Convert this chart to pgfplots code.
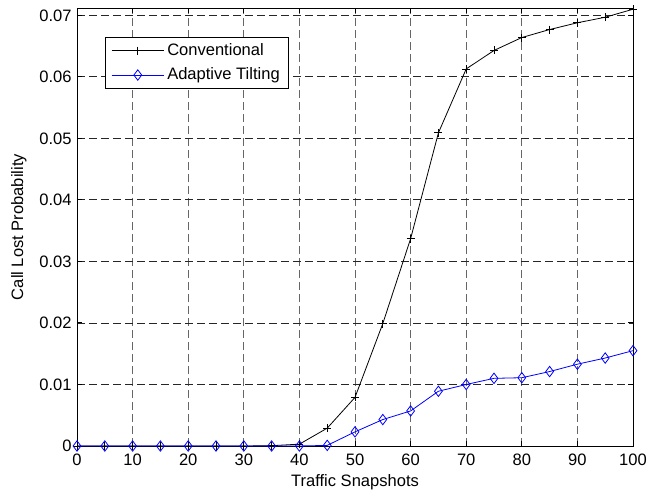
\documentclass[border=0pt]{standalone}
\usepackage{pgfplots}
\pgfplotsset{compat=1.18}
\usepackage{fontspec}
\setmainfont{Liberation Sans}
\begin{document}
\fontsize{8.3}{10}\selectfont
\begin{tikzpicture}
\begin{axis}[
  scale only axis,
  width=278bp, height=219bp,
  xmin=0, xmax=100, ymin=0, ymax=0.0712,
  xtick={0,10,...,100},
  ytick={0,0.01,0.02,0.03,0.04,0.05,0.06,0.07},
  yticklabels={0,0.01,0.02,0.03,0.04,0.05,0.06,0.07},
  scaled y ticks=false,
  /pgf/number format/assume math mode=true,
  tick align=inside,
  tick pos=both,
  major tick length=2.5bp,
  tick style={black, line width=0.5bp},
  axis line style={line width=0.5bp},
  every tick label/.append style={font=\fontsize{8.3}{10}\selectfont},
  xticklabel style={inner sep=0pt, yshift=-4bp},
  yticklabel style={inner sep=0pt, xshift=-2.5bp},
  grid=major,
  x grid style={black!60, line width=0.45bp, dash pattern=on 3.8bp off 2.2bp},
  y grid style={black!85, line width=0.45bp, dash pattern=on 3.8bp off 2.2bp},
  xlabel={Traffic Snapshots},
  ylabel={Call Lost Probability},
  xlabel style={at={(axis description cs:0.5,-0.064)}, anchor=north, inner sep=0pt, font=\fontsize{8.3}{10}\selectfont},
  ylabel style={at={(axis description cs:-0.09,0.5)}, anchor=south, inner sep=0pt, font=\fontsize{8.3}{10}\selectfont},
  legend style={at={(rel axis cs:0.050,0.934)}, anchor=north west, draw=black, line width=0.5bp,
    font=\fontsize{8.3}{10}\selectfont, inner xsep=3bp, inner ysep=1bp, row sep=1bp,
    nodes={inner xsep=1.5bp}},
  legend cell align=left,
  legend image code/.code={
    \draw[mark repeat=2,mark phase=2] plot coordinates {(0cm,0cm) (0.46cm,0cm) (0.92cm,0cm)};
  },
]
\addplot[black, line width=0.4bp, mark=+, mark size=2bp, mark options={line width=0.4bp}] coordinates {
(0,0) (5,0) (10,0) (15,0) (20,0) (25,0) (30,0) (35,0.00005) (40,0.0003)
(45,0.0029) (50,0.0079) (55,0.0199) (60,0.0337) (65,0.0509) (70,0.0613)
(75,0.0643) (80,0.0664) (85,0.0677) (90,0.0688) (95,0.0697) (100,0.0710)
};
\addlegendentry{Conventional}
\addplot[blue, line width=0.4bp, mark=diamond, mark size=2.6bp, mark options={line width=0.4bp, solid}] coordinates {
(0,0) (5,0) (10,0) (15,0) (20,0) (25,0) (30,0) (35,0) (40,0)
(45,0.0001) (50,0.0023) (55,0.0043) (60,0.0057) (65,0.0089) (70,0.0100)
(75,0.0110) (80,0.0111) (85,0.0121) (90,0.0133) (95,0.0143) (100,0.0155)
};
\addlegendentry{Adaptive Tilting}
\end{axis}
\path ([xshift=-38.5bp,yshift=-23bp]current axis.south west) rectangle ([xshift=8bp,yshift=4bp]current axis.north east);
\end{tikzpicture}
\end{document}
